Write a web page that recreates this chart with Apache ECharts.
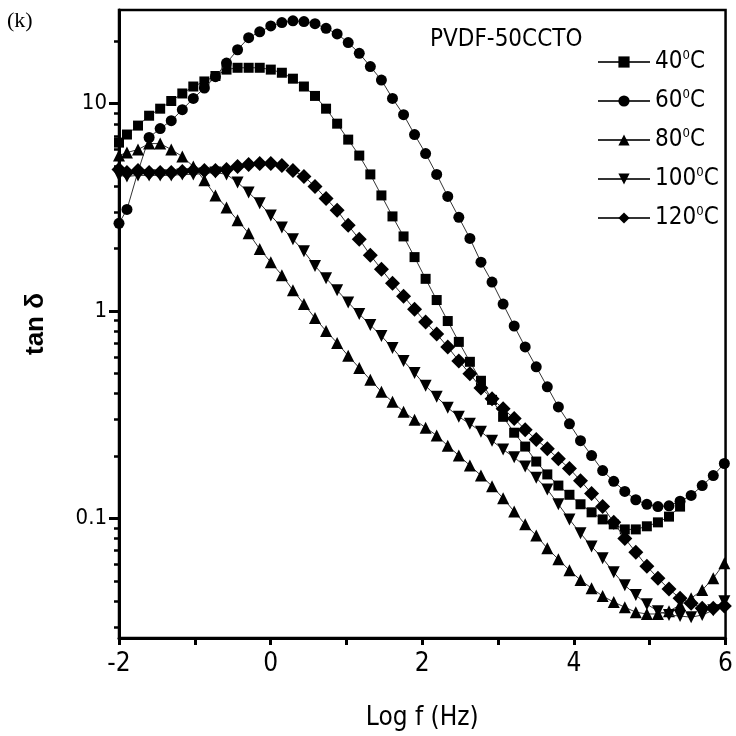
<!DOCTYPE html>
<html><head><meta charset="utf-8">
<script src="https://cdn.jsdelivr.net/npm/echarts@6/dist/echarts.min.js"></script>
<style>html,body{margin:0;padding:0;background:#fff}#c{width:736px;height:736px}</style>
</head><body><div id="c"></div>
<script>
// Log f (Hz) sampling positions
const logF = [-2, -1.895, -1.749, -1.603, -1.457, -1.311, -1.165, -1.020, -0.874, -0.728, -0.582, -0.436, -0.290, -0.144, 0.002, 0.148, 0.294, 0.439, 0.585, 0.731, 0.877, 1.023, 1.169, 1.315, 1.461, 1.607, 1.753, 1.898, 2.044, 2.190, 2.336, 2.482, 2.628, 2.774, 2.920, 3.066, 3.212, 3.357, 3.503, 3.649, 3.795, 3.941, 4.087, 4.233, 4.379, 4.525, 4.671, 4.816, 4.962, 5.108, 5.254, 5.400, 5.546, 5.692, 5.838, 5.984];
const seriesNames = ['40°C', '60°C', '80°C', '100°C', '120°C'];
const tan40 = [6.49, 7.10, 7.84, 8.75, 9.46, 10.3, 11.2, 12.1, 12.8, 13.6, 14.6, 14.9, 14.9, 14.9, 14.6, 14.1, 13.2, 12.1, 10.9, 9.46, 8.01, 6.71, 5.62, 4.56, 3.61, 2.86, 2.29, 1.82, 1.43, 1.13, 0.895, 0.710, 0.569, 0.461, 0.373, 0.309, 0.259, 0.222, 0.188, 0.163, 0.144, 0.130, 0.117, 0.107, 0.0989, 0.0936, 0.0885, 0.0885, 0.0916, 0.0957, 0.102, 0.114];
const tan60 = [2.65, 3.09, 4.71, 6.87, 7.59, 8.28, 9.36, 10.6, 11.9, 13.5, 15.7, 18.2, 20.8, 22.2, 23.7, 24.6, 25.1, 24.9, 24.3, 23.1, 21.7, 19.7, 17.5, 15.1, 13.0, 10.6, 8.85, 7.10, 5.75, 4.56, 3.57, 2.83, 2.24, 1.72, 1.38, 1.08, 0.847, 0.671, 0.538, 0.431, 0.345, 0.286, 0.237, 0.201, 0.170, 0.151, 0.135, 0.123, 0.117, 0.114, 0.115, 0.121, 0.129, 0.144, 0.161, 0.184];
const tan80 = [5.62, 5.81, 6.01, 6.42, 6.42, 6.01, 5.56, 4.98, 4.27, 3.61, 3.16, 2.74, 2.37, 1.99, 1.72, 1.49, 1.26, 1.08, 0.925, 0.801, 0.702, 0.608, 0.532, 0.466, 0.408, 0.365, 0.327, 0.299, 0.274, 0.251, 0.224, 0.201, 0.180, 0.161, 0.143, 0.125, 0.108, 0.0936, 0.0828, 0.0717, 0.0635, 0.0562, 0.0504, 0.0461, 0.0422, 0.0395, 0.0373, 0.0353, 0.0346, 0.0346, 0.0357, 0.0382, 0.0412, 0.0451, 0.0515, 0.0608];
const tan100 = [4.51, 4.46, 4.51, 4.51, 4.51, 4.51, 4.56, 4.56, 4.61, 4.66, 4.56, 4.17, 3.73, 3.31, 2.89, 2.53, 2.22, 1.94, 1.65, 1.44, 1.26, 1.10, 0.967, 0.857, 0.758, 0.664, 0.575, 0.503, 0.436, 0.386, 0.342, 0.309, 0.286, 0.262, 0.237, 0.215, 0.197, 0.178, 0.157, 0.138, 0.117, 0.0989, 0.0847, 0.0733, 0.0642, 0.0550, 0.0476, 0.0427, 0.0386, 0.0357, 0.0342, 0.0338, 0.0334, 0.0342, 0.0361, 0.0399];
const tan120 = [4.82, 4.66, 4.76, 4.66, 4.66, 4.66, 4.71, 4.76, 4.76, 4.76, 4.82, 4.98, 5.09, 5.15, 5.15, 5.03, 4.76, 4.46, 3.99, 3.49, 3.06, 2.59, 2.22, 1.86, 1.59, 1.36, 1.18, 1.02, 0.885, 0.775, 0.671, 0.575, 0.498, 0.426, 0.378, 0.338, 0.303, 0.268, 0.240, 0.217, 0.194, 0.174, 0.152, 0.132, 0.114, 0.0957, 0.0801, 0.0687, 0.0588, 0.0515, 0.0456, 0.0412, 0.0390, 0.0369, 0.0369, 0.0378];
const xTicks = [-2, -1, 0, 1, 2, 3, 4, 5, 6];
const xLabels = [-2, 0, 2, 4, 6];
const yLabels = [0.1, 1, 10];
const yMinorTicks = [0.03, 0.04, 0.05, 0.06, 0.07, 0.08, 0.09, 0.2, 0.3, 0.4, 0.5, 0.6, 0.7, 0.8, 0.9, 2, 3, 4, 5, 6, 7, 8, 9, 20];

const NARROW = "'Liberation Sans Narrow', 'DejaVu Sans Condensed', 'Arial Narrow', sans-serif";
const allY = [tan40, tan60, tan80, tan100, tan120];
const symbols = ['rect', 'circle', 'triangle', 'path://M0,0L2,0L1,1.8Z', 'diamond'];
const sizes = [10, 11, 12, 12, 15];

const chart = echarts.init(document.getElementById('c'), null, {renderer: 'canvas'});
const series = allY.map((arr, i) => ({
  name: seriesNames[i],
  type: 'line',
  yAxisIndex: 0,
  data: arr.map((v, j) => [logF[j], v]),
  symbol: symbols[i],
  symbolSize: sizes[i],
  showAllSymbol: true,
  lineStyle: {color: '#333', width: 1},
  itemStyle: {color: '#000', borderWidth: 0},
  emphasis: {disabled: true},
  clip: false,
  z: 2 + i
}));

const axisCommonY = {
  type: 'log', logBase: 10, min: 0.0265, max: 28.3, position: 'left',
  splitLine: {show: false}, minorTick: {show: false}
};

chart.setOption({
  animation: false,
  backgroundColor: '#fff',
  grid: {left: 119, right: 9, top: 10, bottom: 96, show: true, borderColor: '#000', borderWidth: 2.5, containLabel: false},
  legend: {
    orient: 'vertical', left: 592, top: 44, itemWidth: 52, itemHeight: 14, itemGap: 14,
    data: seriesNames,
    formatter: n => '{a|' + n.replace('°', '}{s|0}{a|') + '}',
    textStyle: {
      color: '#000', fontFamily: NARROW,
      rich: {
        a: {fontSize: 24, fontFamily: NARROW, color: '#000', lineHeight: 26},
        s: {fontSize: 13, fontFamily: NARROW, color: '#000', verticalAlign: 'top', lineHeight: 14}
      }
    },
    selectedMode: false
  },
  xAxis: {
    type: 'value', min: -2, max: 6, interval: 1,
    name: 'Log f (Hz)', nameLocation: 'middle', nameGap: 67,
    nameTextStyle: {fontSize: 26, fontFamily: NARROW, color: '#000'},
    axisLine: {show: true, onZero: false, lineStyle: {color: '#000', width: 3}},
    axisTick: {show: true, inside: false, length: 7, lineStyle: {color: '#000', width: 3}, customValues: xTicks},
    axisLabel: {color: '#000', fontSize: 26, fontFamily: NARROW, margin: 13, customValues: xLabels},
    splitLine: {show: false}
  },
  yAxis: [
    Object.assign({}, axisCommonY, {
      name: 'tan δ', nameLocation: 'middle', nameGap: 70, nameRotate: 90,
      nameTextStyle: {fontSize: 26, fontWeight: 'bold', fontFamily: "'Liberation Sans', Arial, sans-serif", color: '#000'},
      axisLine: {show: true, onZero: false, lineStyle: {color: '#000', width: 3}},
      axisTick: {show: true, inside: false, length: 10, lineStyle: {color: '#000', width: 3}, customValues: yLabels},
      axisLabel: {color: '#000', fontSize: 22, fontFamily: NARROW, margin: 12, customValues: yLabels,
        formatter: v => String(v)}
    }),
    Object.assign({}, axisCommonY, {
      axisLine: {show: false, onZero: false},
      axisTick: {show: true, inside: false, length: 5, lineStyle: {color: '#000', width: 2.5}, customValues: yMinorTicks},
      axisLabel: {show: false}
    })
  ],
  graphic: [
    {type: 'text', left: 7, top: 10, style: {text: '(k)', fontSize: 22, fontFamily: "'Liberation Serif', 'Times New Roman', serif", fill: '#000'}},
    {type: 'text', left: 430, top: 28, style: {text: 'PVDF-50CCTO', fontSize: 24, fontFamily: NARROW, fill: '#000'}}
  ],
  series: series
});
</script>
</body></html>
